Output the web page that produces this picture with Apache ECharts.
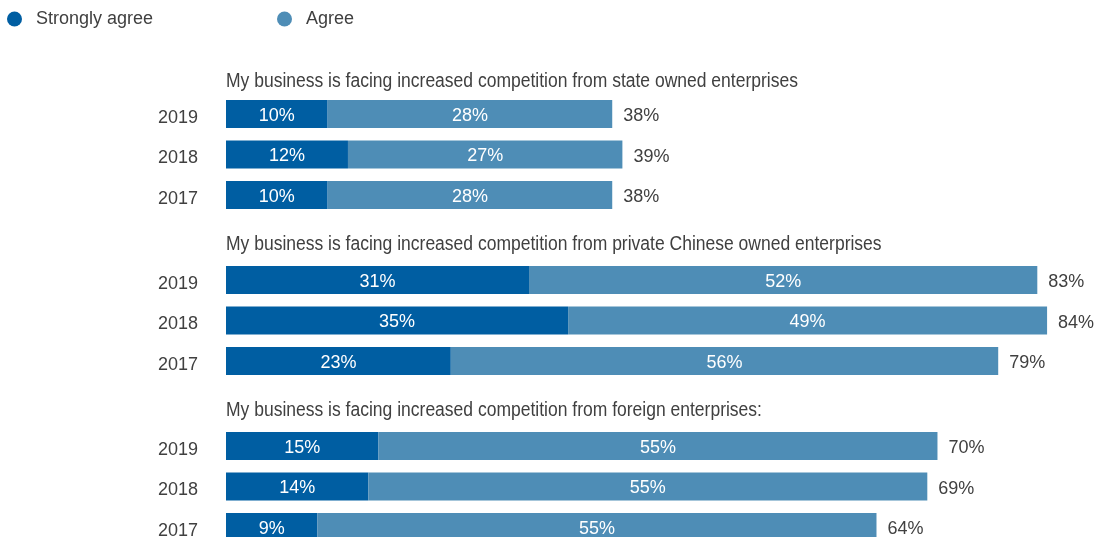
<!DOCTYPE html>
<html>
<head>
<meta charset="utf-8">
<script src="https://cdn.jsdelivr.net/npm/echarts@6/dist/echarts.min.js"></script>
<style>
  html, body { margin: 0; padding: 0; background: #fff; }
  #chart { width: 1094px; height: 537px; }
</style>
</head>
<body>
<div id="chart"></div>
<script>
// Survey years, listed top to bottom within each block
const years = ['2019', '2018', '2017'];

const questions = [
  'My business is facing increased competition from state owned enterprises',
  'My business is facing increased competition from private Chinese owned enterprises',
  'My business is facing increased competition from foreign enterprises:'
];

// Share of respondents (%)
const stronglyState = [10, 12, 10];
const agreeState = [28, 27, 28];
const totalState = [38, 39, 38];

const stronglyPrivate = [31, 35, 23];
const agreePrivate = [52, 49, 56];
const totalPrivate = [83, 84, 79];

const stronglyForeign = [15, 14, 9];
const agreeForeign = [55, 55, 55];
const totalForeign = [70, 69, 64];

const FONT = "'Liberation Sans', Arial, sans-serif";
const DARK = '#005ea2';
const LIGHT = '#4e8db6';
const TEXT = '#404040';

// Each block spans from x=226 to the right edge; axis max sets its scale
const blocks = [
  { strongly: stronglyState, agree: agreeState, total: totalState, top: 93.75, max: 85.4, titleY: 81 },
  { strongly: stronglyPrivate, agree: agreePrivate, total: totalPrivate, top: 259.75, max: 88.8, titleY: 244 },
  { strongly: stronglyForeign, agree: agreeForeign, total: totalForeign, top: 425.75, max: 85.4, titleY: 410.5 }
];

const grid = [], xAxis = [], yAxis = [], series = [], graphic = [];

blocks.forEach((b, i) => {
  grid.push({ left: 226, top: b.top, width: 868, height: 121.5, outerBoundsMode: 'none', containLabel: false });
  xAxis.push({ gridIndex: i, type: 'value', min: 0, max: b.max, show: false });
  yAxis.push({
    gridIndex: i, type: 'category', data: years, inverse: true,
    axisLine: { show: false }, axisTick: { show: false },
    axisLabel: { margin: 28, color: TEXT, fontSize: 18, fontFamily: FONT, verticalAlign: 'top', lineHeight: 8 }
  });
  const inLabel = {
    show: true, position: 'inside', offset: [0, 2], color: '#fff', fontSize: 18, fontFamily: FONT,
    formatter: p => p.value + '%'
  };
  series.push({
    name: 'Strongly agree', type: 'bar', stack: 's' + i, xAxisIndex: i, yAxisIndex: i,
    data: b.strongly, barWidth: 28, itemStyle: { color: DARK }, label: inLabel, z: 3
  });
  series.push({
    name: 'Agree', type: 'bar', stack: 's' + i, xAxisIndex: i, yAxisIndex: i,
    data: b.agree, barWidth: 28, itemStyle: { color: LIGHT }, label: inLabel, z: 3
  });
  series.push({
    name: 'Total', type: 'bar', xAxisIndex: i, yAxisIndex: i,
    data: b.total, barWidth: 28, barGap: '-100%', z: 1, silent: true,
    itemStyle: { color: 'rgba(0,0,0,0)' },
    label: {
      show: true, position: 'right', distance: 11, offset: [0, 2.5], color: TEXT, fontSize: 18, fontFamily: FONT,
      formatter: p => p.value + '%'
    }
  });
  graphic.push({
    type: 'text', x: 226, y: b.titleY, scaleX: 0.875,
    style: { text: questions[i], fill: TEXT, font: '20px ' + FONT, textVerticalAlign: 'middle' }
  });
});

const chart = echarts.init(document.getElementById('chart'), null, { renderer: 'canvas' });
chart.setOption({
  animation: false,
  legend: [
    { data: ['Strongly agree'], left: 7, top: 10, padding: 0, icon: 'circle', itemWidth: 15, itemHeight: 15,
      textStyle: { color: TEXT, fontSize: 18, fontFamily: FONT, padding: [0, 0, 0, 9] } },
    { data: ['Agree'], left: 277, top: 10, padding: 0, icon: 'circle', itemWidth: 15, itemHeight: 15,
      textStyle: { color: TEXT, fontSize: 18, fontFamily: FONT, padding: [0, 0, 0, 9] } }
  ],
  grid, xAxis, yAxis, series, graphic
});
</script>
</body>
</html>
